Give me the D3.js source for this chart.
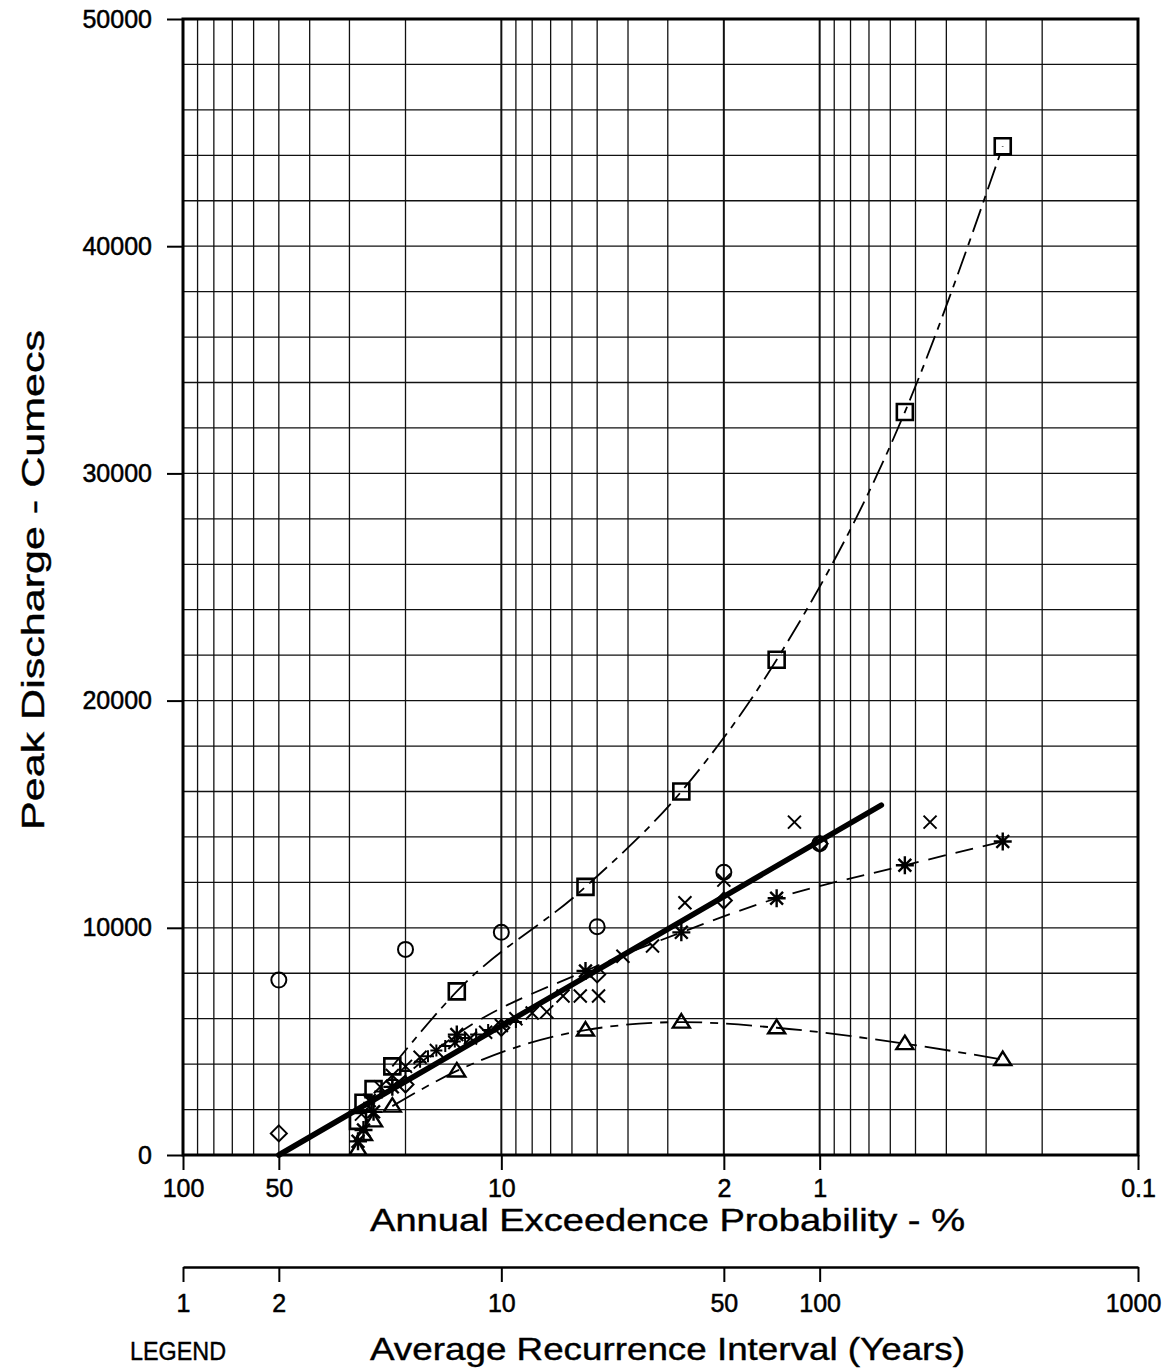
<!DOCTYPE html>
<html lang="en">
<head>
  <meta charset="UTF-8">
  <meta name="viewport" content="width=device-width, initial-scale=1.0">
  <title>Peak Discharge - Frequency</title>
  <script src="https://d3js.org/d3.v7.min.js"></script>
</head>
<body style="margin: 0; overflow: hidden; background: #fff;">

<script>
  //Axis ticks and grid values
  const aepTicks = [100, 50, 10, 2, 1, 0.1];
  const aepGrid = [90, 80, 70, 60, 50, 40, 30, 20, 10, 9, 8, 7, 6, 5, 4, 3, 2, 1, 0.9, 0.8, 0.7, 0.6, 0.5, 0.4, 0.3, 0.2];
  const ariTicks = [1, 2, 10, 50, 100, 1000];
  const qTicks = [0, 10000, 20000, 30000, 40000, 50000];
  const qGrid = [2000, 4000, 6000, 8000, 10000, 12000, 14000, 16000, 18000, 20000, 22000, 24000,
    26000, 28000, 30000, 32000, 34000, 36000, 38000, 40000, 42000, 44000, 46000, 48000];

  //Fitted line (AEP %, cumecs)
  const fitAep = [50, 0.64];
  const fitQ = [0, 15400];

  //Point estimates at standard probabilities
  const stdAep = [50, 20, 10, 5, 2, 1];
  const circleQ = [7700, 9050, 9800, 10050, 12450, 13700];
  const diamondQ = [950, 3100, 5600, 7950, 11200, 13700];

  //Ranked series sharing plotting positions
  const rankAep = [28.2, 27.1, 25.2, 22.0, 13.8, 5.44, 2.72, 1.365, 0.54, 0.266];
  const squareQ = [1500, 2300, 2900, 3900, 7200, 11800, 16000, 21800, 32700, 44400];
  const triangleQ = [250, 900, 1500, 2150, 3700, 5500, 5850, 5600, 4900, 4200];
  const asteriskQ = [600, 1100, 1900, 3000, 5300, 8100, 9800, 11300, 12750, 13800];

  //Recorded floods
  const crossAep = [27.5, 26, 24, 22, 20, 18, 16, 14, 12.5, 11.2, 10, 9, 8, 7.2, 6.4, 5.65, 4.95, 4.15, 3.35, 2.65, 2.0, 1.2, 0.45];
  const crossQ = [1800, 2400, 3000, 3500, 3900, 4300, 4600, 4950, 5150, 5400, 5700, 6000, 6250, 6300, 7000, 7000, 7000, 8750, 9200, 11100, 12100, 14650, 14650];
  const plusAep = [26, 24, 22, 20, 18, 17, 16, 15, 14, 13, 12, 11, 10, 9];
  const plusQ = [2300, 2800, 3300, 3700, 4100, 4350, 4600, 4800, 5000, 5150, 5300, 5500, 5650, 5850];

  const font = '"Liberation Sans", Arial, sans-serif';

  const svg = d3.select('body').append('svg')
    .attr('width', 1164)
    .attr('height', 1369);

  //Scales: log of probability, reversed
  const x = d3.scaleLog().domain([100, 0.1]).range([183, 1138]);
  const xAri = d3.scaleLog().domain([1, 1000]).range([x(100), x(0.1)]);
  const y = d3.scaleLinear().domain([0, 50000]).range([1155, 19]);

  //Grid
  const grid = svg.append('g').attr('stroke', '#111');
  grid.selectAll('.vg').data(aepGrid).enter().append('line')
    .attr('x1', d => x(d)).attr('x2', d => x(d))
    .attr('y1', y(50000)).attr('y2', y(0))
    .attr('stroke-width', d => (d === 10 || d === 1 || d === 2) ? 2 : 1.3);
  grid.selectAll('.hg').data(qGrid).enter().append('line')
    .attr('x1', x(100)).attr('x2', x(0.1))
    .attr('y1', d => y(d)).attr('y2', d => y(d))
    .attr('stroke-width', 1.3);

  //Axes
  const yAxis = svg.append('g')
    .attr('transform', `translate(${x(100)},0)`)
    .call(d3.axisLeft(y).tickValues(qTicks).tickSize(16).tickSizeOuter(0).tickPadding(15).tickFormat(d3.format('d')));
  const xAxis = svg.append('g')
    .attr('transform', `translate(0,${y(0)})`)
    .call(d3.axisBottom(x).tickValues(aepTicks).tickSize(15).tickSizeOuter(0).tickPadding(9).tickFormat(d => d));
  const ariAxis = svg.append('g')
    .attr('transform', 'translate(0,1267)')
    .call(d3.axisBottom(xAri).tickValues(ariTicks).tickSize(15).tickSizeOuter(0).tickPadding(12).tickFormat(d => d));

  [yAxis, xAxis].forEach(a => a.select('.domain').remove());
  [yAxis, xAxis, ariAxis].forEach(a => {
    a.selectAll('line').attr('stroke', '#000').attr('stroke-width', 2);
    a.selectAll('text').attr('fill', '#000')
      .attr('stroke', '#000').attr('stroke-width', 0.5)
      .style('font-family', font).style('font-size', '25px');
  });
  ariAxis.select('.domain').attr('stroke', '#000').attr('stroke-width', 2.5);

  //Keep the last ARI label inside the page
  ariAxis.selectAll('.tick text').filter(d => d === 1000).attr('dx', -5);

  //Plot border
  svg.append('rect')
    .attr('x', x(100)).attr('y', y(50000))
    .attr('width', x(0.1) - x(100)).attr('height', y(0) - y(50000))
    .attr('fill', 'none').attr('stroke', '#000').attr('stroke-width', 3);

  //Dashed curves through ranked series
  const curve = d3.line()
    .x(d => x(d[0])).y(d => y(d[1]))
    .curve(d3.curveMonotoneX);
  const pairs = (ps, qs) => ps.map((p, i) => [p, qs[i]]);

  const curves = [
    { q: squareQ, dash: '24,7,7,7' },
    { q: triangleQ, dash: '26,8,8,8' },
    { q: asteriskQ, dash: '18,10' }
  ];
  curves.forEach(c => {
    svg.append('path')
      .attr('d', curve(pairs(rankAep, c.q).slice(3)))
      .attr('fill', 'none').attr('stroke', '#000')
      .attr('stroke-width', 1.8).attr('stroke-dasharray', c.dash);
  });

  //Thick fitted line
  svg.append('path')
    .attr('d', d3.line().x(d => x(d[0])).y(d => y(d[1]))(pairs(fitAep, fitQ)))
    .attr('fill', 'none').attr('stroke', '#000').attr('stroke-width', 5.5)
    .attr('stroke-linecap', 'round');

  //Marker shapes
  const shapes = {
    square: 'M-8,-8h16v16h-16Z',
    triangle: 'M0,-8L8.5,5.5L-8.5,5.5Z',
    diamond: 'M0,-8L8,0L0,8L-8,0Z',
    cross: 'M-6.5,-6.5L6.5,6.5M-6.5,6.5L6.5,-6.5',
    plus: 'M-6,0H6M0,-6V6',
    asterisk: 'M-9,0H9M0,-9V9M-6.4,-6.4L6.4,6.4M-6.4,6.4L6.4,-6.4'
  };

  const drawMarks = function(ps, qs, shape, sw) {
    svg.append('g').selectAll('path')
      .data(pairs(ps, qs)).enter().append('path')
      .attr('transform', d => `translate(${x(d[0])},${y(d[1])})`)
      .attr('d', shapes[shape])
      .attr('fill', 'none').attr('stroke', '#000').attr('stroke-width', sw);
  };

  drawMarks(plusAep, plusQ, 'plus', 2);
  drawMarks(crossAep, crossQ, 'cross', 2);
  drawMarks(stdAep, diamondQ, 'diamond', 2);
  drawMarks(rankAep, triangleQ, 'triangle', 2.4);
  drawMarks(rankAep, squareQ, 'square', 2.6);
  drawMarks(rankAep, asteriskQ, 'asterisk', 2.4);

  svg.append('g').selectAll('circle')
    .data(pairs(stdAep, circleQ)).enter().append('circle')
    .attr('cx', d => x(d[0])).attr('cy', d => y(d[1])).attr('r', 7.5)
    .attr('fill', 'none').attr('stroke', '#000').attr('stroke-width', 2);

  //Titles
  const title = function(sel) {
    sel.attr('lengthAdjust', 'spacingAndGlyphs')
      .attr('stroke', '#000').attr('stroke-width', 0.4)
      .style('font-family', font).style('font-size', '32px');
  };

  svg.append('text')
    .attr('x', 370).attr('y', 1231)
    .attr('textLength', 595)
    .call(title)
    .text('Annual Exceedence Probability - %');

  svg.append('text')
    .attr('x', 370).attr('y', 1360)
    .attr('textLength', 595)
    .call(title)
    .text('Average Recurrence Interval (Years)');

  svg.append('text')
    .attr('transform', 'translate(44,830) rotate(-90)')
    .attr('textLength', 500)
    .call(title)
    .text('Peak Discharge - Cumecs');

  svg.append('text')
    .attr('x', 130).attr('y', 1360)
    .attr('textLength', 96)
    .call(title)
    .style('font-size', '25px')
    .text('LEGEND');

</script>

</body>
</html>
